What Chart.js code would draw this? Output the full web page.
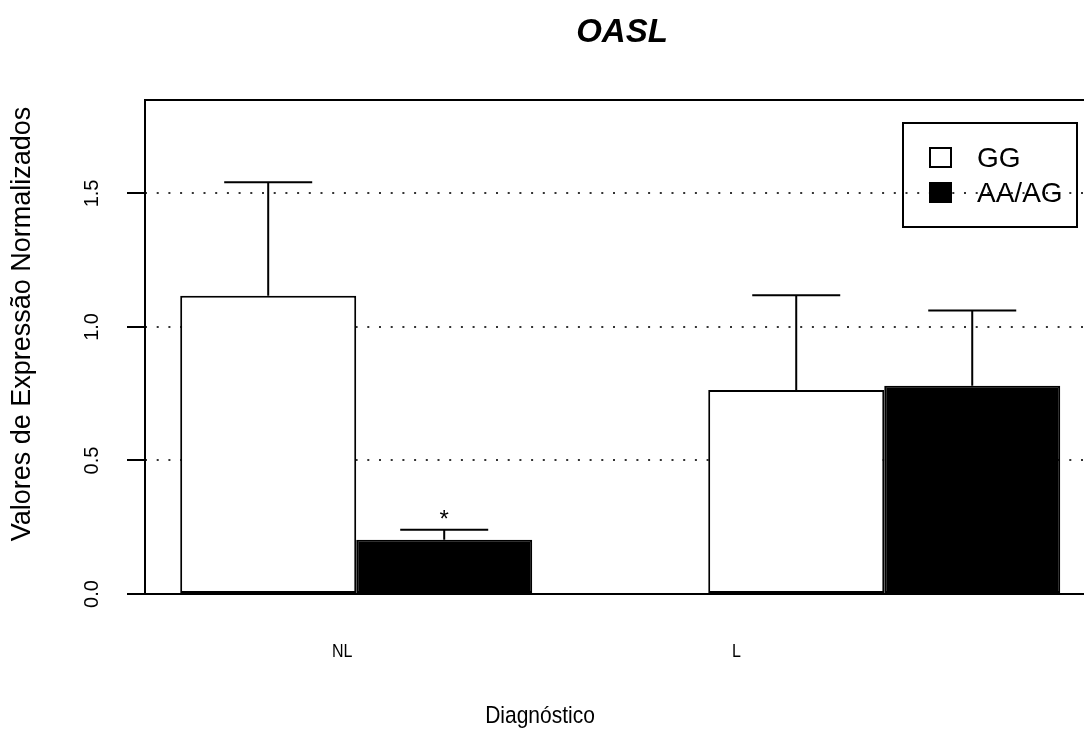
<!DOCTYPE html>
<html>
<head>
<meta charset="utf-8">
<script src="https://cdn.jsdelivr.net/npm/chart.js@4.4.1/dist/chart.umd.min.js"></script>
<style>
  html, body { margin: 0; padding: 0; background: #fff; overflow: hidden; }
</style>
</head>
<body>
<canvas id="oaslChart" width="1084" height="729"></canvas>
<script>
const diagnosticos = ["NL", "L"];
const posGrupo = [2, 5];          // centro de cada grupo (unidades do barplot)
const posRotulo = [1.92, 4.16];   // posicao dos rotulos NL / L
const mediaGG = [1.117, 0.764];
const dpGG = [0.425, 0.355];
const mediaAA = [0.203, 0.780];
const dpAA = [0.038, 0.282];
const marcaGG = ["", ""];
const marcaAA = ["*", ""];
const ticksY = [0, 0.5, 1.0, 1.5];
const rotulosY = ["0.0", "0.5", "1.0", "1.5"];

const fonte = "'Liberation Sans', Arial, Helvetica, sans-serif";

// texto horizontal um pouco esticado na vertical, como no grafico original
function textoEsticado(ctx, txt, x, y, esticar) {
    ctx.save();
    ctx.translate(x, y);
    ctx.scale(1, esticar);
    ctx.fillText(txt, 0, 0);
    ctx.restore();
}

// desenha caixa, barras de erro, textos e legenda no estilo do R
const estiloR = {
    id: "estiloR",
    afterDraw(chart) {
        const ctx = chart.ctx;
        const area = chart.chartArea;
        const x = chart.scales.x;
        const y = chart.scales.y;

        ctx.save();
        ctx.strokeStyle = "#000";
        ctx.fillStyle = "#000";

        // caixa do grafico (lado direito fica fora da tela)
        ctx.lineWidth = 2;
        ctx.strokeRect(area.left, area.top, area.right - area.left + 20, area.bottom - area.top);

        // barras de erro (so para cima) e asteriscos
        chart.data.datasets.forEach((ds, d) => {
            const meta = chart.getDatasetMeta(d);
            meta.data.forEach((bar, i) => {
                const topo = y.getPixelForValue(ds.media[i] + ds.dp[i]);
                const meia = bar.width / 4;
                ctx.beginPath();
                ctx.moveTo(bar.x, bar.y);
                ctx.lineTo(bar.x, topo);
                ctx.moveTo(bar.x - meia, topo);
                ctx.lineTo(bar.x + meia, topo);
                ctx.stroke();
                if (ds.marca[i]) {
                    ctx.font = "24px " + fonte;
                    ctx.textAlign = "center";
                    ctx.textBaseline = "middle";
                    ctx.fillText(ds.marca[i], bar.x, topo - 9);
                }
            });
        });

        // rotulos do eixo y (girados, como no R)
        ctx.font = "20px " + fonte;
        ctx.textAlign = "center";
        ctx.textBaseline = "middle";
        ticksY.forEach((v, i) => {
            ctx.save();
            ctx.translate(92, y.getPixelForValue(v));
            ctx.rotate(-Math.PI / 2);
            ctx.fillText(rotulosY[i], 0, 0);
            ctx.restore();
        });

        // titulo do eixo y
        ctx.save();
        ctx.font = "27px " + fonte;
        ctx.translate(23, 324);
        ctx.rotate(-Math.PI / 2);
        ctx.fillText("Valores de Expressão Normalizados", 0, 0);
        ctx.restore();

        // rotulos do eixo x
        ctx.font = "16px " + fonte;
        diagnosticos.forEach((lab, i) => {
            textoEsticado(ctx, lab, x.getPixelForValue(posRotulo[i]), 652, 1.12);
        });

        // titulo do eixo x
        ctx.font = "21px " + fonte;
        textoEsticado(ctx, "Diagnóstico", 540, 716, 1.18);

        // titulo principal
        ctx.font = "bold italic 33px " + fonte;
        ctx.fillText("OASL", 622, 33);

        // legenda
        ctx.lineWidth = 2;
        ctx.strokeRect(903, 123, 174, 104);
        ctx.font = "28px " + fonte;
        ctx.textAlign = "left";
        chart.data.datasets.forEach((ds, d) => {
            const yy = 158 + d * 35;
            ctx.fillStyle = ds.backgroundColor;
            ctx.fillRect(930, yy - 10, 21, 19);
            ctx.strokeRect(930, yy - 10, 21, 19);
            ctx.fillStyle = "#000";
            ctx.fillText(ds.label, 977, yy + 1);
        });

        ctx.restore();
    }
};

const ctx = document.getElementById("oaslChart").getContext("2d");
const chart = new Chart(ctx, {
    type: "bar",
    data: {
        datasets: [{
            label: "GG",
            data: posGrupo.map((p, i) => ({ x: p, y: mediaGG[i] })),
            media: mediaGG,
            dp: dpGG,
            marca: marcaGG,
            backgroundColor: "#ffffff",
            borderColor: "#000000",
            borderWidth: 2,
            borderSkipped: false
        }, {
            label: "AA/AG",
            data: posGrupo.map((p, i) => ({ x: p, y: mediaAA[i] })),
            media: mediaAA,
            dp: dpAA,
            marca: marcaAA,
            backgroundColor: "#000000",
            borderColor: "#000000",
            borderWidth: 2,
            borderSkipped: false
        }]
    },
    options: {
        responsive: false,
        animation: false,
        events: [],
        categoryPercentage: 2 / 3,
        barPercentage: 1,
        layout: { padding: { left: 127, top: 100, right: 0, bottom: 135 } },
        plugins: {
            legend: { display: false },
            title: { display: false },
            tooltip: { enabled: false }
        },
        scales: {
            x: {
                type: "linear",
                display: false,
                offset: false,
                min: 0.8,
                max: 6.135,
                afterBuildTicks: s => { s.ticks = posGrupo.map(v => ({ value: v })); }
            },
            y: {
                min: 0,
                max: 1.85,
                afterBuildTicks: s => { s.ticks = ticksY.map(v => ({ value: v })); },
                ticks: { display: false },
                border: { display: false, dash: [2, 9.7] },
                grid: {
                    color: c => (c.tick && c.tick.value === 0) ? "rgba(0,0,0,0)" : "#333",
                    lineWidth: 2,
                    drawTicks: true,
                    tickLength: 18,
                    tickColor: "#000",
                    tickWidth: 2,
                    tickBorderDash: []
                }
            }
        }
    },
    plugins: [estiloR]
});
</script>
</body>
</html>
